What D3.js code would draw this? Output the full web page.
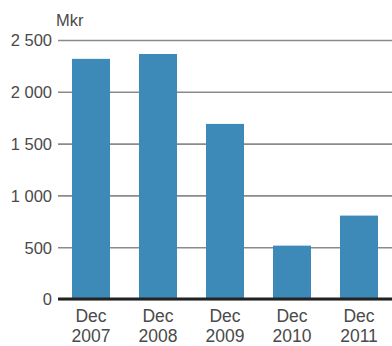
<!DOCTYPE html>
<html>
<head>
<meta charset="utf-8">
<script src="https://cdn.jsdelivr.net/npm/d3@7/dist/d3.min.js"></script>
<style>
  html, body { margin: 0; padding: 0; background: #fff; }
  svg { display: block; }
  text { font-family: "Liberation Sans", Arial, sans-serif; fill: #4a4a4a; }
</style>
</head>
<body>
<svg id="chart" width="392" height="346"></svg>
<script>
// Liabilities at year end, in millions of kronor
const months = ["Dec", "Dec", "Dec", "Dec", "Dec"];
const years = ["2007", "2008", "2009", "2010", "2011"];
const values = [2318, 2365, 1690, 515, 805];
const yTicks = [0, 500, 1000, 1500, 2000, 2500];
const unitLabel = "Mkr";

(function () {
  const svg = d3.select("#chart");
  const W = 392;
  const plotLeft = 58, plotTop = 40, plotBottom = 299;

  const x = d3.scaleBand()
    .domain(years)
    .range([plotLeft, W])
    .paddingInner(0.433)
    .paddingOuter(0.209);

  const y = d3.scaleLinear()
    .domain([0, 2500])
    .range([plotBottom, plotTop]);

  // Horizontal gridlines with tick labels
  const yAxis = d3.axisLeft(y)
    .tickValues(yTicks)
    .tickSize(-(W - plotLeft))
    .tickPadding(6)
    .tickFormat(v => d3.format(",")(v).replace(/,/g, " "));

  const gy = svg.append("g")
    .attr("transform", `translate(${plotLeft},0)`)
    .call(yAxis);
  gy.select(".domain").remove();
  gy.selectAll(".tick line")
    .attr("stroke", "#8a8a8a")
    .attr("stroke-width", 1.6);
  gy.selectAll(".tick text")
    .attr("font-size", 16.5)
    .attr("font-family", "Liberation Sans, Arial, sans-serif")
    .attr("fill", "#4a4a4a")
    .attr("dy", "0.36em");

  // Bars
  svg.append("g")
    .selectAll("rect")
    .data(values)
    .join("rect")
    .attr("x", (d, i) => x(years[i]))
    .attr("width", x.bandwidth())
    .attr("y", d => y(d))
    .attr("height", d => y(0) - y(d))
    .attr("fill", "#3d8ab8");

  // Baseline
  svg.append("line")
    .attr("x1", plotLeft).attr("x2", W)
    .attr("y1", y(0)).attr("y2", y(0))
    .attr("stroke", "#222")
    .attr("stroke-width", 3);

  // Category labels
  const gx = svg.append("g");
  years.forEach((yr, i) => {
    const cx = x(yr) + x.bandwidth() / 2;
    gx.append("text")
      .attr("x", cx).attr("y", 322)
      .attr("text-anchor", "middle")
      .attr("font-size", 17.5)
      .style("font-family", "'Liberation Sans Narrow', 'Arial Narrow', sans-serif")
      .text(months[i]);
    gx.append("text")
      .attr("x", cx).attr("y", 342)
      .attr("text-anchor", "middle")
      .attr("font-size", 17.5)
      .style("font-family", "'Liberation Sans Narrow', 'Arial Narrow', sans-serif")
      .text(yr);
  });

  // Unit label
  svg.append("text")
    .attr("x", 56).attr("y", 26)
    .attr("font-size", 16.5)
    .text(unitLabel);
})();
</script>
</body>
</html>
